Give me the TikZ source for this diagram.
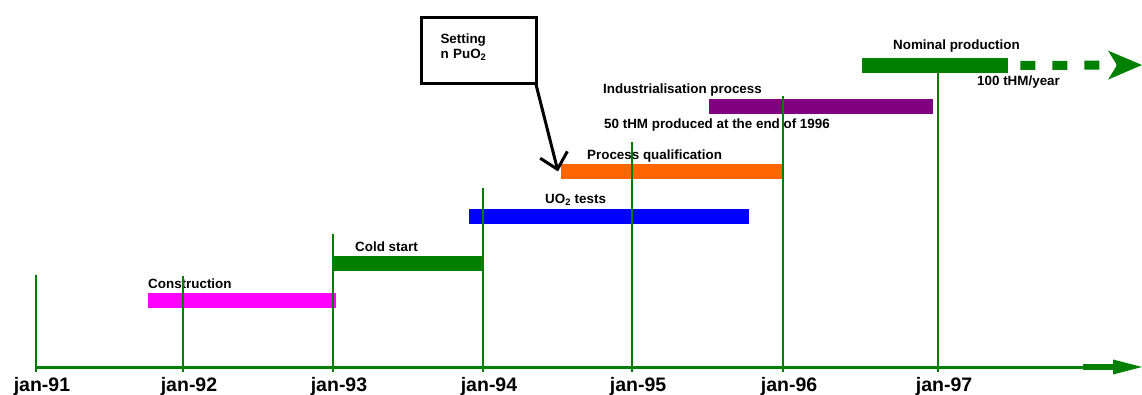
\documentclass[tikz,border=0pt]{standalone}
\usepackage{fontspec}
\setmainfont{Liberation Sans}
\usetikzlibrary{positioning,arrows.meta,calc}
\definecolor{axisgreen}{HTML}{008000}
\definecolor{cBuild}{HTML}{FF00FF}
\definecolor{cCold}{HTML}{008000}
\definecolor{cTest}{HTML}{0000FF}
\definecolor{cQual}{HTML}{FF6600}
\definecolor{cIndus}{HTML}{800080}
\tikzset{
  bar/.style     = {rectangle, anchor=north west, inner sep=0pt, minimum height=14.5pt, draw=none},
  lab/.style     = {font=\fontsize{13.4}{15}\selectfont\bfseries, inner sep=0pt, anchor=base west},
  yr/.style      = {font=\fontsize{19.5}{22}\selectfont\bfseries, inner sep=0pt, anchor=base},
  tck/.style     = {draw=axisgreen, line width=2pt},
  axis/.style    = {draw=axisgreen, line width=3pt, -{Triangle[length=29pt,width=15pt,line width=0pt]}},
  plan/.style    = {draw=cCold, line width=9pt, dash pattern=on 15pt off 17pt, dash phase=20pt,
                    -{Stealth[length=34pt,width=29pt,inset=9pt,line width=0pt]}},
  callout/.style = {rectangle, draw=black, line width=3pt, align=left, text width=77pt, inner xsep=19pt,
                    minimum height=66pt, font=\fontsize{13.4}{15}\selectfont\bfseries},
  ptr/.style     = {-{Straight Barb[length=15pt,width=28pt]}, line width=3pt},
}
\begin{document}
\begin{tikzpicture}[x=1pt,y=-1pt]
  \useasboundingbox (0,0) rectangle (1142,394);

  % bars
  \node[bar, fill=cBuild, minimum width=188pt] (build) at (148,293) {};
  \node[bar, fill=cCold, minimum width=150pt] (cold) at (334,256) {};
  \node[bar, fill=cTest, minimum width=280pt] (uo) at (469,209) {};
  \node[bar, fill=cQual, minimum width=222pt] (qual) at (561,164) {};
  \node[bar, fill=cIndus, minimum width=224pt] (indus) at (709,99) {};
  \node[bar, fill=cCold, minimum width=146pt] (nom) at (862,58) {};

  \node[lab] (buildlab) at ([yshift=5pt]build.north west) {Construction};
  \node[lab] (coldlab) at ([xshift=21pt,yshift=5pt]cold.north west) {Cold start};
  \node[lab] (uolab) at ([xshift=76pt,yshift=6pt]uo.north west) {UO\textsubscript{2} tests};
  \node[lab] (quallab) at ([xshift=26pt,yshift=5pt]qual.north west) {Process qualification};
  \node[lab] (induslab) at ([xshift=-106pt,yshift=6pt]indus.north west) {Industrialisation process};
  \node[lab] (indusnote) at ([xshift=-105pt,yshift=-15pt]indus.south west) {50 tHM produced at the end of 1996};
  \node[lab] (nomlab) at ([xshift=31pt,yshift=9pt]nom.north west) {Nominal production};
  \node[lab] (nomnote) at ([xshift=115pt,yshift=-13pt]nom.south west) {100 tHM/year};

  \coordinate (nomend) at (1142,65);
  \draw[plan] (nom.east) -- (nomend);

  % years
  \foreach \x/\t/\yr in {36/275/91, 183/276/92, 333/234/93, 483/188/94, 632/142/95, 783/96/96, 938/60/97}{
    \draw[tck] (\x,\t) -- (\x,372);
    \node[yr] (jan\yr) at (\x+6,391) {jan-\yr};
  }

  \coordinate (orig) at (35,367);
  \coordinate (tip) at (1142,367);
  \draw[axis] (orig) -- (tip);
  \draw[draw=axisgreen, line width=6pt] ($(tip)+(-59,0)$) -- ($(tip)+(-27,0)$);

  \node[callout] (set) at (479,50) {Setting\\n PuO\textsubscript{2}\vspace{6pt}};
  \draw[ptr] ([xshift=-2pt]set.south east) -- ([xshift=-3pt]qual.west);
\end{tikzpicture}
\end{document}
